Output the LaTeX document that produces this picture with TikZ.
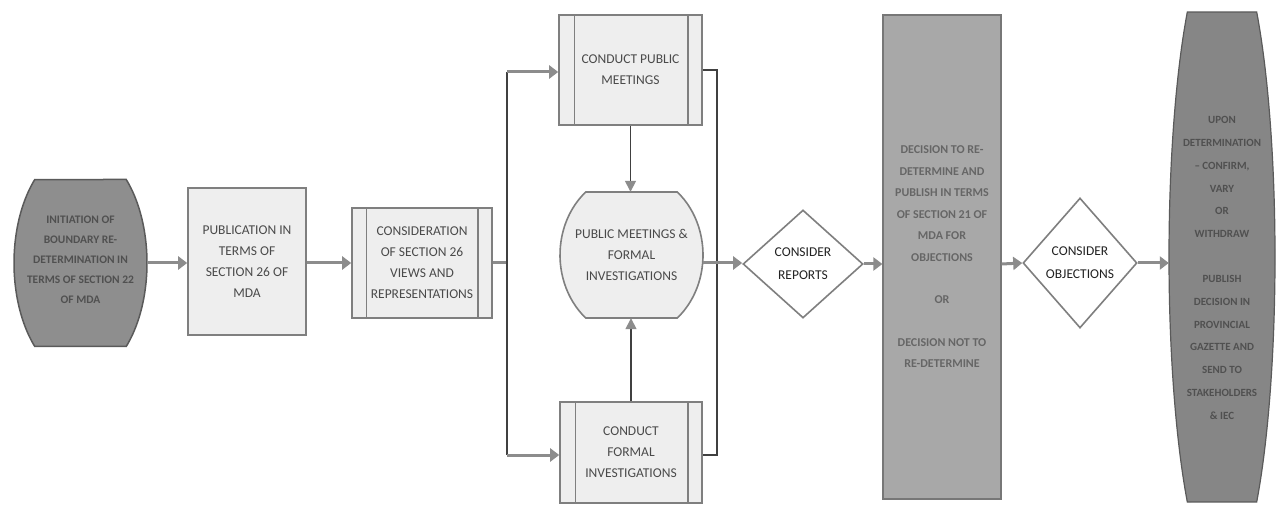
\documentclass[tikz,border=0pt]{standalone}
\usepackage{fontspec}
\setmainfont{Carlito}
\usetikzlibrary{arrows.meta,shapes.geometric,calc}
\definecolor{boxfill}{HTML}{EEEEEE}
\definecolor{boxline}{HTML}{7F7F7F}
\definecolor{txtgray}{HTML}{4A4A4A}
\definecolor{initfill}{HTML}{8E8E8E}
\definecolor{initline}{HTML}{5A5A5A}
\definecolor{inittxt}{HTML}{505050}
\definecolor{decfill}{HTML}{A8A8A8}
\definecolor{decline}{HTML}{777777}
\definecolor{dectxt}{HTML}{666666}
\definecolor{resfill}{HTML}{868686}
\definecolor{restxt}{HTML}{505050}
\definecolor{arrowgray}{HTML}{8C8C8C}
\definecolor{darkline}{HTML}{404040}
\definecolor{diatxt}{HTML}{222222}
\newcommand\mytruncell[6]{%
  \pgfmathsetmacro\tth{asin(#5/#4)}%
  \pgfmathsetmacro\thx{#3*cos(\tth)}%
  \draw[#6] ({#1+\thx},{#2+#5}) arc[start angle=\tth, end angle=-\tth, x radius=#3pt, y radius=#4pt]
    -- ({#1-\thx},{#2-#5}) arc[start angle=180+\tth, end angle=180-\tth, x radius=#3pt, y radius=#4pt] -- cycle;}
\newcommand\fsbox{\fontsize{13.5}{21}\selectfont}
\newcommand\fsdia{\fontsize{13.5}{23}\selectfont}
\newcommand\fsdark{\fontsize{11.5}{20}\selectfont\bfseries}
\newcommand\fsdec{\fontsize{12}{21.5}\selectfont\bfseries}
\newcommand\fsres{\fontsize{11}{22.8}\selectfont\bfseries}
\tikzset{
  lightbox/.style={draw=boxline, fill=boxfill, line width=1.6pt, align=center, text=txtgray, font=\fsbox, inner sep=0pt},
  plainlbl/.style={align=center, inner sep=0pt},
  decision/.style={diamond, draw=boxline, fill=white, line width=1.6pt, align=center, text=diatxt, font=\fsdia, inner sep=0pt},
  flowarrow/.style={draw=arrowgray, line width=3pt, -{Triangle[length=9pt,width=13pt]}},
  flowline/.style={draw=arrowgray, line width=3pt},
  thinline/.style={draw=darkline, line width=1.5pt},
  thinarrow/.style={draw=darkline, line width=1.5pt, -{Triangle[length=11pt,width=11pt,color=arrowgray]}},
  innerbar/.style={draw=boxline, line width=1.4pt}
}
\begin{document}
\begin{tikzpicture}[x=1pt,y=1pt]
\useasboundingbox (0,0) rectangle (1276,506);
\fill[white] (0,0) rectangle (1276,506);

% left terminal
\mytruncell{80.5}{243}{66.5}{115}{83.5}{fill=initfill, draw=initline, line width=1.5pt}
\node[plainlbl, minimum width=133pt, minimum height=167pt, text=inittxt, font=\fsdark] (init) at (80.5,246)
  {INITIATION OF\\BOUNDARY RE-\\DETERMINATION IN\\TERMS OF SECTION 22\\OF MDA};

% publication
\node[lightbox, minimum width=118pt, minimum height=147pt] (pub) at (247,244.5)
  {PUBLICATION IN\\TERMS OF\\SECTION 26 OF\\MDA};

% consideration (predefined process)
\node[lightbox, minimum width=140pt, minimum height=110pt] (cons) at (422,243)
  {CONSIDERATION\\OF SECTION 26\\VIEWS AND\\REPRESENTATIONS};
\draw[innerbar] ([xshift=15pt]cons.north west) -- ([xshift=15pt]cons.south west);
\draw[innerbar] ([xshift=-15pt]cons.north east) -- ([xshift=-15pt]cons.south east);

% conduct public meetings
\node[lightbox, minimum width=143pt, minimum height=110pt] (cpm) at (630.5,436)
  {CONDUCT PUBLIC\\MEETINGS};
\draw[innerbar] ([xshift=16pt]cpm.north west) -- ([xshift=16pt]cpm.south west);
\draw[innerbar] ([xshift=-15pt]cpm.north east) -- ([xshift=-15pt]cpm.south east);

% conduct formal investigations
\node[lightbox, minimum width=142pt, minimum height=101pt] (cfi) at (631,53.5)
  {CONDUCT\\FORMAL\\INVESTIGATIONS};
\draw[innerbar] ([xshift=16pt]cfi.north west) -- ([xshift=16pt]cfi.south west);
\draw[innerbar] ([xshift=-15pt]cfi.north east) -- ([xshift=-15pt]cfi.south east);

% public meetings & formal investigations (terminal)
\mytruncell{631.5}{251}{71.5}{82}{63}{fill=boxfill, draw=boxline, line width=1.6pt}
\node[plainlbl, minimum width=143pt, minimum height=126pt, text=txtgray, font=\fsbox] (pmfi) at (631.5,251)
  {PUBLIC MEETINGS \&\\FORMAL\\INVESTIGATIONS};

% consider reports
\node[decision, minimum width=120pt, minimum height=108pt] (rep) at (803,242)
  {CONSIDER\\REPORTS};

% decision tall box
\node[draw=decline, fill=decfill, line width=1.2pt, align=center, inner sep=0pt,
      minimum width=118pt, minimum height=484pt, text=dectxt, font=\fsdec] (dec) at (942,249)
  {DECISION TO RE-\\DETERMINE AND\\PUBLISH IN TERMS\\OF SECTION 21 OF\\MDA FOR\\OBJECTIONS\\[21pt]OR\\[21pt]DECISION NOT TO\\RE-DETERMINE};

% consider objections
\node[decision, minimum width=114pt, minimum height=130pt] (obj) at (1080,243)
  {CONSIDER\\OBJECTIONS};

% result ellipse
\mytruncell{1222}{249}{53}{324}{245}{fill=resfill, draw=initline, line width=1.2pt}
\node[plainlbl, minimum width=106pt, text=restxt, font=\fsres] (res) at (1222,238)
  {UPON\\DETERMINATION\\-- CONFIRM,\\VARY\\OR\\WITHDRAW\\[22pt]PUBLISH\\DECISION IN\\PROVINCIAL\\GAZETTE AND\\SEND TO\\STAKEHOLDERS\\\& IEC};

% branch coordinates
\coordinate (bt) at (507,434);
\coordinate (bb) at (507,51);
\coordinate (rb) at (717,51);

% connectors
\draw[flowarrow] (init.east |- 0,243) -- (pub.west |- 0,243);
\draw[flowarrow] (pub.east |- 0,243) -- (cons.west |- 0,243);
\draw[flowline] (cons.east) -- (cons.east -| bt);
\draw[thinline] (bt) -- (bb);
\draw[flowarrow] (bt) -- (bt -| cpm.west);
\draw[flowarrow] (bb) -- (bb -| cfi.west);
\draw[thinarrow] (cpm.south) -- (cpm.south |- pmfi.north);
\draw[thinarrow] (cfi.north) -- (cfi.north |- pmfi.south);
\draw[thinline] (cpm.east) -| (rb) -- (rb -| cfi.east);
\draw[flowarrow] ([yshift=-8pt]pmfi.east) -- ([yshift=-8pt]pmfi.east -| rep.west);
\draw[flowarrow] (rep.east) -- (rep.east -| dec.west);
\draw[flowarrow] (dec.east |- rep.east) -- (obj.west);
\draw[flowarrow] (obj.east) -- (obj.east -| res.west);
\end{tikzpicture}
\end{document}
